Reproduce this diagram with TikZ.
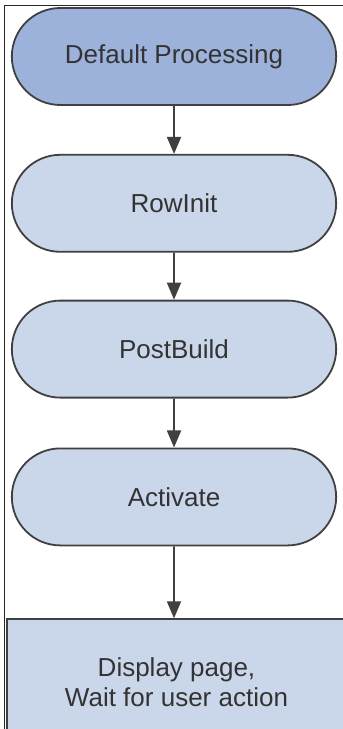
\documentclass[tikz,border=0pt]{standalone}
\usepackage{fontspec}
\setmainfont{Liberation Sans}
\usetikzlibrary{shapes,arrows.meta,positioning}
\definecolor{startfill}{HTML}{9DB2DA}
\definecolor{stepfill}{HTML}{CAD7EA}

\begin{document}
\begin{tikzpicture}[x=1pt,y=1pt,node distance=48pt,>={Triangle[width=14pt,length=17pt]}]
  \tikzstyle{event node}=[rounded rectangle,draw=black!75,line width=1.8pt,fill=stepfill,
    minimum width=331pt,minimum height=97pt,text=black!80,font=\fontsize{26}{30}\selectfont]
  \tikzstyle{wait node}=[rectangle,draw=black!75,line width=1.8pt,fill=stepfill,align=center,
    minimum width=339pt,minimum height=126pt,text=black!80,font=\fontsize{26}{30}\selectfont]
  \tikzstyle{flow}=[->,line width=1.8pt,draw=black!75,fill=black!75]

  \useasboundingbox (0,0) rectangle (343,-729);
  \fill[white] (0,0) rectangle (343,-729);
  \clip (0,0) rectangle (343,-729);
  % outer frame
  \draw[black!85,line width=1pt] (344,-5) -| (4,-730);

  \node[event node,fill=startfill] (default) at (174,-56.5) {Default Processing};
  \node[event node] (rowinit) [below=48pt of default] {RowInit};
  \node[event node] (postbuild) [below=47pt of rowinit] {PostBuild};
  \node[event node] (activate) [below=49pt of postbuild] {Activate};
  \node[wait node] (display) [below=72pt of activate,xshift=2.5pt] {Display page,\\Wait for user action};

  \draw[flow] (default) -- (rowinit);
  \draw[flow] (rowinit) -- (postbuild);
  \draw[flow] (postbuild) -- (activate);
  \draw[flow] (activate) -- (activate.south |- display.north);
\end{tikzpicture}
\end{document}
